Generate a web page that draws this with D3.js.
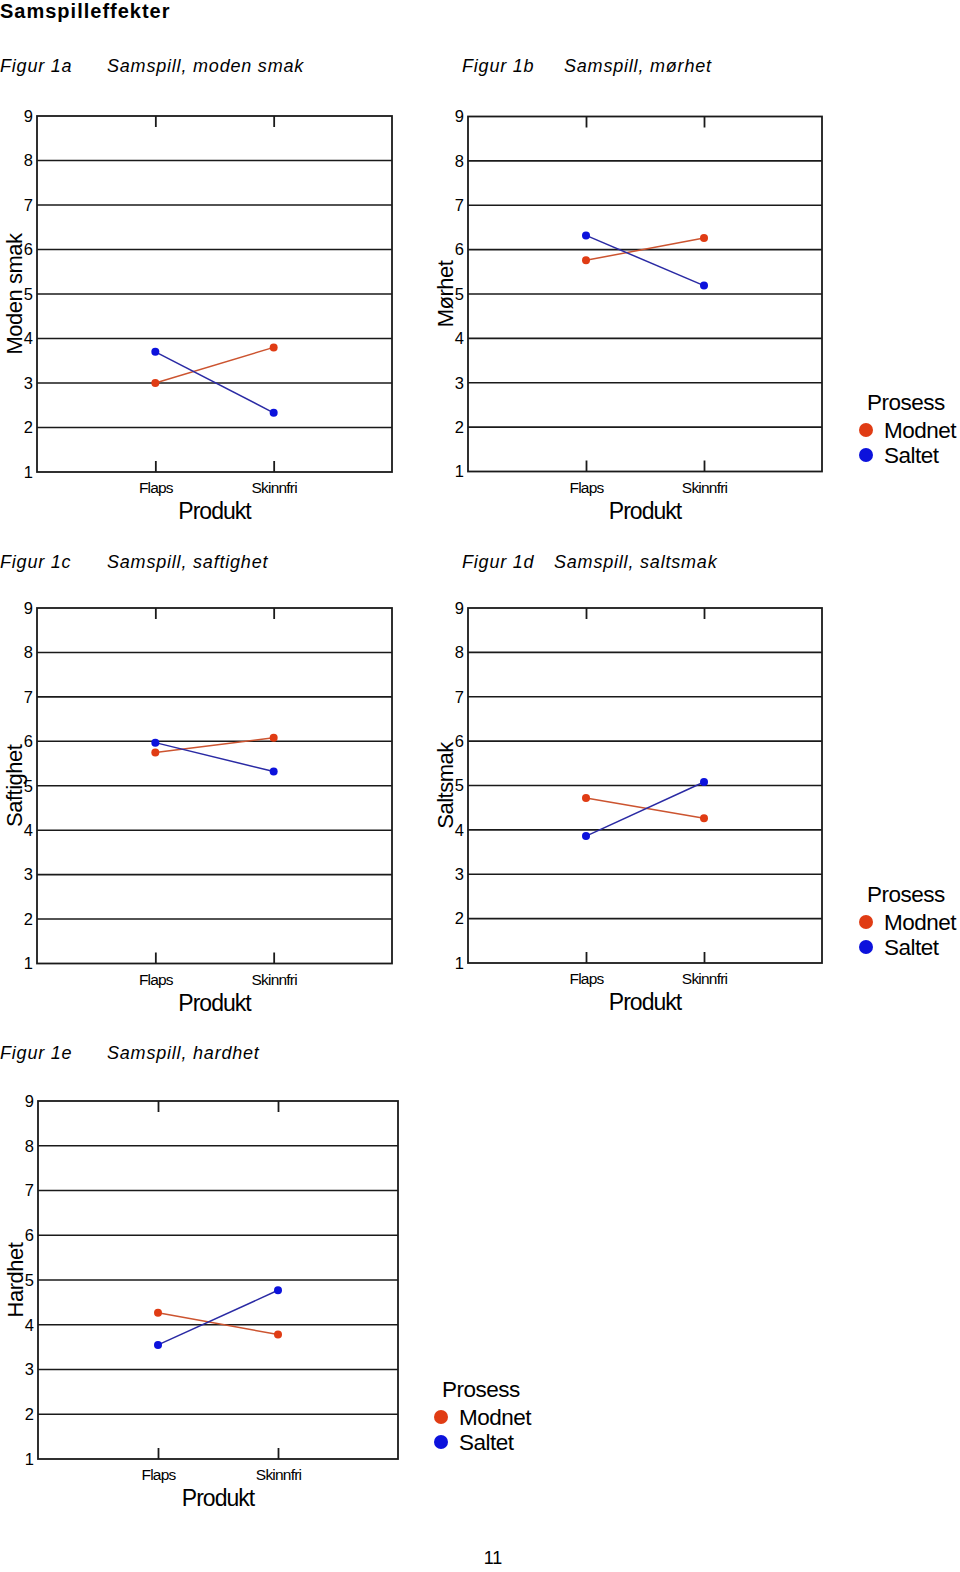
<!DOCTYPE html>
<html>
<head>
<meta charset="utf-8">
<script src="https://cdn.jsdelivr.net/npm/d3@7"></script>
<style>
  body { margin: 0; background: #fff; }
  svg { display: block; }
  text { font-family: "Liberation Sans", Arial, sans-serif; fill: #000; }
</style>
</head>
<body>
<script>
// ---------- DATA ----------
const products = ["Flaps", "Skinnfri"];
const processes = ["Modnet", "Saltet"];
const yTicks = [1, 2, 3, 4, 5, 6, 7, 8, 9];

const modenSmakModnet = [3.0, 3.8];
const modenSmakSaltet = [3.7, 2.33];
const morhetModnet = [5.76, 6.26];
const morhetSaltet = [6.32, 5.19];
const saftighetModnet = [5.75, 6.08];
const saftighetSaltet = [5.97, 5.32];
const saltsmakModnet = [4.72, 4.26];
const saltsmakSaltet = [3.86, 5.08];
const hardhetModnet = [4.27, 3.78];
const hardhetSaltet = [3.55, 4.77];

const pageTitle = "Samspilleffekter";
const figLabels = ["Figur 1a", "Figur 1b", "Figur 1c", "Figur 1d", "Figur 1e"];
const figTitles = ["Samspill, moden smak", "Samspill, mørhet", "Samspill, saftighet", "Samspill, saltsmak", "Samspill, hardhet"];
const yTitles = ["Moden smak", "Mørhet", "Saftighet", "Saltsmak", "Hardhet"];
const xTitle = "Produkt";
const legendTitle = "Prosess";
const pageNumber = "11";

// ---------- STYLE / LAYOUT ----------
const dotColor = { Modnet: "#e03c14", Saltet: "#0c12dc" };
const lineColor = { Modnet: "#cc5430", Saltet: "#2a2aa4" };

const panels = [
  { values: [modenSmakModnet, modenSmakSaltet], x0: 37, x1: 392, y0: 116, y1: 472,
    hx: 0, hy: 72, tx: 107 },
  { values: [morhetModnet, morhetSaltet], x0: 468, x1: 822, y0: 116.5, y1: 471.5,
    hx: 462, hy: 72, tx: 564 },
  { values: [saftighetModnet, saftighetSaltet], x0: 37, x1: 392, y0: 608, y1: 963.5,
    hx: 0, hy: 568, tx: 107 },
  { values: [saltsmakModnet, saltsmakSaltet], x0: 468, x1: 822, y0: 608, y1: 963,
    hx: 462, hy: 568, tx: 554 },
  { values: [hardhetModnet, hardhetSaltet], x0: 38, x1: 398, y0: 1101, y1: 1459,
    hx: 0, hy: 1059, tx: 107 }
];

const legends = [
  { x: 866, y: 410 },
  { x: 866, y: 902 },
  { x: 441, y: 1397 }
];

const svg = d3.select("body").append("svg")
  .attr("width", 960).attr("height", 1572);

// Page title
svg.append("text")
  .attr("x", 0).attr("y", 18)
  .style("font-size", "20px").style("font-weight", "bold")
  .style("letter-spacing", "1px")
  .text(pageTitle);

// Page number
svg.append("text")
  .attr("x", 493).attr("y", 1564)
  .attr("text-anchor", "middle")
  .style("font-size", "18px")
  .text(pageNumber);

panels.forEach((p, i) => {
  // headers
  svg.append("text")
    .attr("x", p.hx).attr("y", p.hy)
    .style("font-size", "18px").style("font-style", "italic")
    .style("letter-spacing", "0.8px")
    .text(figLabels[i]);
  svg.append("text")
    .attr("x", p.tx).attr("y", p.hy)
    .style("font-size", "18px").style("font-style", "italic")
    .style("letter-spacing", "0.8px")
    .text(figTitles[i]);

  const x = d3.scalePoint().domain(products).range([p.x0, p.x1]).padding(1);
  const y = d3.scaleLinear().domain([1, 9]).range([p.y1, p.y0]);

  const g = svg.append("g");

  // gridlines
  g.selectAll("line.grid").data(yTicks.slice(1, -1)).enter().append("line")
    .attr("class", "grid")
    .attr("x1", p.x0).attr("x2", p.x1)
    .attr("y1", d => y(d)).attr("y2", d => y(d))
    .attr("stroke", "#1a1a1a").attr("stroke-width", 1.6);

  // frame
  g.append("rect")
    .attr("x", p.x0).attr("y", p.y0)
    .attr("width", p.x1 - p.x0).attr("height", p.y1 - p.y0)
    .attr("fill", "none").attr("stroke", "#1a1a1a").attr("stroke-width", 1.8);

  // y axis
  const ya = g.append("g").attr("transform", `translate(${p.x0},0)`)
    .call(d3.axisLeft(y).tickValues(yTicks).tickSize(0).tickPadding(4).tickFormat(d3.format("d")));
  ya.select(".domain").remove();
  ya.selectAll("text").style("font-size", "16.5px").style("font-family", "Liberation Sans, Arial, sans-serif").attr("fill", "#000");

  // top ticks
  const ta = g.append("g").attr("transform", `translate(0,${p.y0})`)
    .call(d3.axisTop(x).tickSize(-11).tickFormat(""));
  ta.select(".domain").remove();
  ta.selectAll("line").attr("stroke", "#1a1a1a").attr("stroke-width", 1.8);

  // bottom axis
  const ba = g.append("g").attr("transform", `translate(0,${p.y1})`)
    .call(d3.axisBottom(x).tickSize(-11).tickPadding(10));
  ba.select(".domain").remove();
  ba.selectAll("line").attr("stroke", "#1a1a1a").attr("stroke-width", 1.8);
  ba.selectAll("text").style("font-size", "15.5px").style("letter-spacing", "-0.8px")
    .style("font-family", "Liberation Sans, Arial, sans-serif").attr("fill", "#000");

  // x title
  g.append("text")
    .attr("x", (p.x0 + p.x1) / 2).attr("y", p.y1 + 47)
    .attr("text-anchor", "middle")
    .style("font-size", "23px").style("letter-spacing", "-1px")
    .text(xTitle);

  // y title
  g.append("text")
    .attr("transform", `translate(${p.x0 - 15},${(p.y0 + p.y1) / 2}) rotate(-90)`)
    .attr("text-anchor", "middle")
    .style("font-size", "22px").style("letter-spacing", "-0.5px")
    .text(yTitles[i]);

  // series
  const line = d3.line().x((d, j) => x(products[j])).y(d => y(d));
  processes.forEach((proc, k) => {
    const vals = p.values[k];
    g.append("path").datum(vals)
      .attr("d", line).attr("fill", "none")
      .attr("stroke", lineColor[proc]).attr("stroke-width", 1.5);
    g.selectAll(null).data(vals).enter().append("circle")
      .attr("cx", (d, j) => x(products[j])).attr("cy", d => y(d))
      .attr("r", 4).attr("fill", dotColor[proc]);
  });
});

// legends
legends.forEach(l => {
  const g = svg.append("g");
  g.append("text").attr("x", l.x + 1).attr("y", l.y)
    .style("font-size", "22.5px").style("letter-spacing", "-0.5px")
    .text(legendTitle);
  processes.forEach((proc, k) => {
    const cy = l.y + 20 + k * 25;
    g.append("circle").attr("cx", l.x).attr("cy", cy).attr("r", 7).attr("fill", dotColor[proc]);
    g.append("text").attr("x", l.x + 18).attr("y", cy + 8)
      .style("font-size", "22.5px").style("letter-spacing", "-0.5px")
      .text(proc);
  });
});
</script>
</body>
</html>
